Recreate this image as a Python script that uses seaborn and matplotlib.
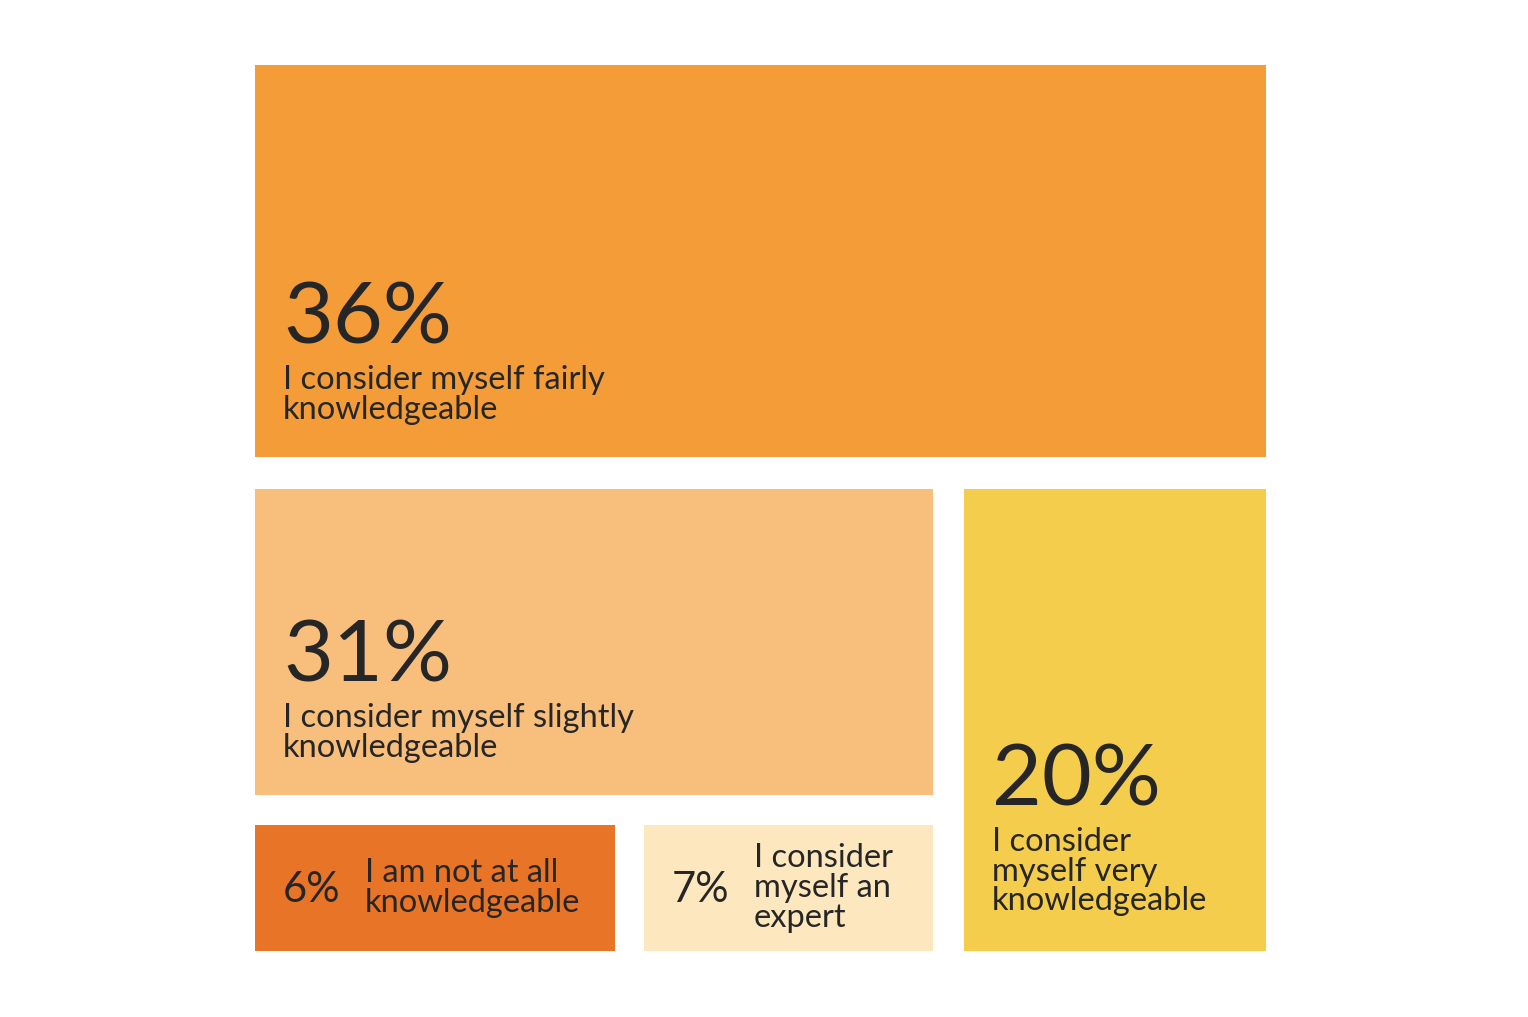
import matplotlib
matplotlib.use("Agg")
import matplotlib.pyplot as plt
import seaborn as sns
from matplotlib.patches import Rectangle

sns.set_theme(style="white")
plt.rcParams['font.family'] = ['Lato', 'DejaVu Sans']

# data
shares = [36, 31, 20, 6, 7]
labels = ["I consider myself fairly\nknowledgeable",
          "I consider myself slightly\nknowledgeable",
          "I consider\nmyself very\nknowledgeable",
          "I am not at all\nknowledgeable",
          "I consider\nmyself an\nexpert"]
colors = ["#F39C38", "#F8BE7C", "#F5CD4C", "#E87428", "#FDE7BE"]

# layout (pixel boxes: x0, y0, x1, y1) and label style per tile
boxes = [(255, 65, 1266, 457), (255, 489, 933, 795), (964, 489, 1266, 951),
         (255, 825, 615, 951), (644, 825, 933, 951)]
big = [True, True, True, False, False]

fig = plt.figure(figsize=(15.28, 10.17), dpi=100)
ax = fig.add_axes([0, 0, 1, 1])
ax.set_xlim(0, 1528)
ax.set_ylim(1017, 0)
ax.axis("off")

ink = "#262626"
for v, lab, c, (x0, y0, x1, y1), b in zip(shares, labels, colors, boxes, big):
    ax.add_patch(Rectangle((x0, y0), x1 - x0, y1 - y0, color=c, lw=0))
    nl = lab.count("\n") + 1
    if b:
        top = y1 - 28 - nl * 32
        ax.text(x0 + 28, top - 22, f"{v}%", fontsize=62, color=ink,
                va="baseline", ha="left")
        ax.text(x0 + 28, top, lab, fontsize=23.5, color=ink, va="top",
                ha="left", linespacing=0.98)
    else:
        cy = (y0 + y1) / 2
        ax.text(x0 + 28, cy + 2, f"{v}%", fontsize=30, color=ink,
                va="center", ha="left")
        ax.text(x0 + 110, cy, lab, fontsize=23.5, color=ink, va="center",
                ha="left", linespacing=0.98)

fig.savefig("out.png", dpi=100, facecolor="white")
